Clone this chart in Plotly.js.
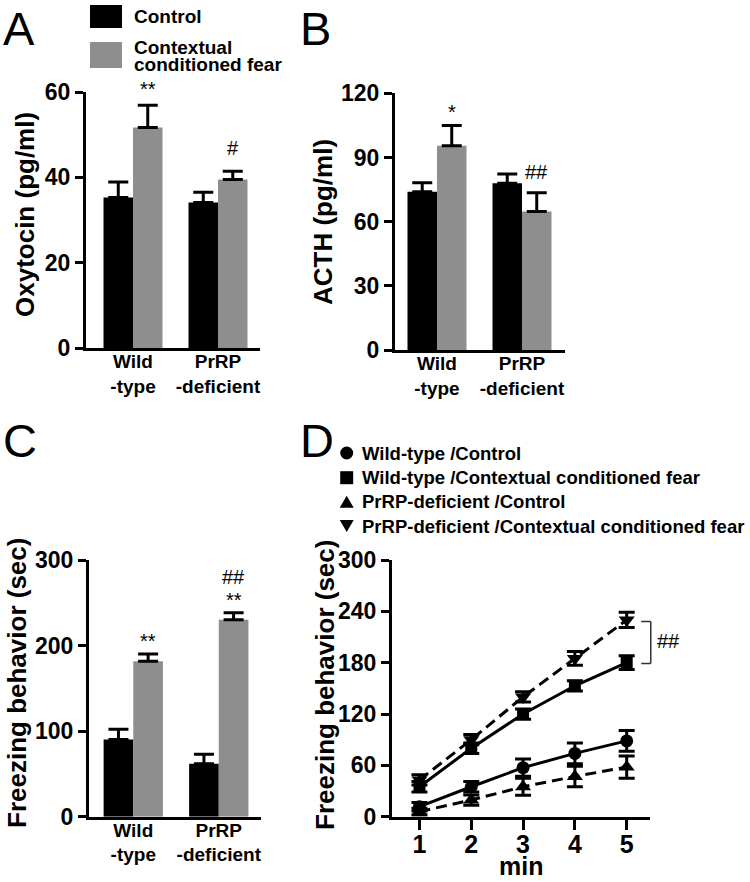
<!DOCTYPE html>
<html><head><meta charset="utf-8">
<script src="https://cdn.plot.ly/plotly-3.0.1.min.js"></script>
<style>html,body{margin:0;padding:0;background:#fff;overflow:hidden}</style>
</head><body><div id="chart" style="width:750px;height:882px"></div>
<script>
// ---------- data ----------
const groups = ['Wild<br>-type', 'PrRP<br>-deficient'];
const seriesNames = ['Control', 'Contextual conditioned fear'];

const oxyControl = [35.3, 34.1];
const oxyControlErr = [3.6, 2.4];
const oxyFear = [51.7, 39.5];
const oxyFearErr = [5.2, 1.9];

const acthControl = [74.0, 77.9];
const acthControlErr = [4.2, 4.4];
const acthFear = [95.5, 64.8];
const acthFearErr = [9.4, 8.7];

const freezeControl = [90.2, 62.0];
const freezeControlErr = [12.0, 11.0];
const freezeFear = [181.6, 230.2];
const freezeFearErr = [8.6, 8.2];

const minutes = [1, 2, 3, 4, 5];
const lineNames = ['Wild-type /Control', 'Wild-type /Contextual conditioned fear',
                   'PrRP-deficient /Control', 'PrRP-deficient /Contextual conditioned fear'];
const wtControl = [11.7, 35.0, 57.3, 74.0, 88.6];
const wtControlErr = [5, 6, 10, 12, 12];
const wtFear = [35.0, 80.0, 120.0, 153.0, 180.0];
const wtFearErr = [6, 6, 6, 6, 8];
const koControl = [6.0, 19.5, 35.0, 47.0, 58.0];
const koControlErr = [4, 6, 10, 12, 13];
const koFear = [43.0, 90.0, 140.0, 185.0, 230.0];
const koFearErr = [6, 6, 6, 8, 9];

// ---------- styling ----------
const FONT = 'Liberation Sans, Arial, Helvetica, sans-serif';
const W = 750, H = 882;
const px = v => v / W;
const py = v => 1 - v / H;
const BLACK = '#000000';
const GRAY = '#8e8e8e';
const BARGAP = 0.306;
const OFF = (1 - BARGAP) / 4;

const tickFont = {family: FONT, size: 23, weight: 'bold', color: BLACK};
const titleFont = {family: FONT, size: 26, weight: 'bold', color: BLACK};
const catFont = {family: FONT, size: 19, weight: 'bold', color: BLACK};
const sigFont = {family: FONT, size: 20, color: BLACK};
const legFontA = {family: FONT, size: 19, weight: 'bold', color: BLACK};
const legFontD = {family: FONT, size: 18.5, weight: 'bold', color: BLACK};

function barPair(ctrl, ctrlErr, fear, fearErr, xa, ya) {
  const common = {type: 'bar', x: groups, xaxis: xa, yaxis: ya, showlegend: false, hoverinfo: 'skip'};
  const errStyle = {type: 'data', symmetric: false, color: BLACK, thickness: 3, width: 10};
  return [
    Object.assign({}, common, {name: seriesNames[0], y: ctrl, marker: {color: BLACK},
      error_y: Object.assign({}, errStyle, {array: ctrlErr, arrayminus: ctrlErr.map(() => 0)})}),
    Object.assign({}, common, {name: seriesNames[1], y: fear, marker: {color: GRAY},
      error_y: Object.assign({}, errStyle, {array: fearErr, arrayminus: fearErr.map(() => 0)})})
  ];
}

function lineTrace(name, y, err, symbol, size, dash) {
  return {type: 'scatter', mode: 'lines+markers', x: minutes, y: y, xaxis: 'x4', yaxis: 'y4',
    name: name, showlegend: false, hoverinfo: 'skip', cliponaxis: false,
    line: {color: BLACK, width: 3, dash: dash},
    marker: {symbol: symbol, size: size, color: BLACK},
    error_y: {type: 'data', array: err, color: BLACK, thickness: 3, width: 8}};
}

const DASH = '11px,6px';
const traces = [].concat(
  barPair(oxyControl, oxyControlErr, oxyFear, oxyFearErr, 'x', 'y'),
  barPair(acthControl, acthControlErr, acthFear, acthFearErr, 'x2', 'y2'),
  barPair(freezeControl, freezeControlErr, freezeFear, freezeFearErr, 'x3', 'y3'),
  [
    lineTrace(lineNames[2], koControl, koControlErr, 'triangle-up', 14, DASH),
    lineTrace(lineNames[3], koFear, koFearErr, 'triangle-down', 14, DASH),
    lineTrace(lineNames[0], wtControl, wtControlErr, 'circle', 13, 'solid'),
    lineTrace(lineNames[1], wtFear, wtFearErr, 'square', 12, 'solid')
  ]
);

function yAxis(domain, range, dtick, anchor) {
  return {domain: domain, range: range, dtick: dtick, tick0: 0, anchor: anchor,
    showline: true, linewidth: 3, linecolor: BLACK, ticks: 'outside', ticklen: 8, tickwidth: 3,
    tickcolor: BLACK, showgrid: false, zeroline: false, tickfont: tickFont,
    automargin: false, fixedrange: true};
}
function xCatAxis(domain, range, anchor) {
  return {domain: domain, range: range, anchor: anchor, type: 'category', showline: true,
    linewidth: 3, linecolor: BLACK, ticks: '', showgrid: false, zeroline: false,
    tickfont: catFont, ticklabelstandoff: -6, automargin: false, fixedrange: true};
}

const annotations = [];
function addText(text, x, y, xref, yref, font, opts) {
  annotations.push(Object.assign({text: text, x: x, y: y, xref: xref, yref: yref,
    showarrow: false, font: font, xanchor: 'center', yanchor: 'middle'}, opts || {}));
}
// panel letters
const letterFont = {family: FONT, size: 47, color: BLACK};
addText('A', px(1), 1, 'paper', 'paper', letterFont, {xanchor: 'left', yanchor: 'top'});
addText('B', px(298), 1, 'paper', 'paper', letterFont, {xanchor: 'left', yanchor: 'top'});
addText('C', px(1), py(412), 'paper', 'paper', letterFont, {xanchor: 'left', yanchor: 'top'});
addText('D', px(298), py(412), 'paper', 'paper', letterFont, {xanchor: 'left', yanchor: 'top'});
// axis titles
const rot = {textangle: -90};
addText('Oxytocin (pg/ml)', px(25), py(215), 'paper', 'paper', titleFont, rot);
addText('ACTH (pg/ml)', px(323), py(222), 'paper', 'paper', titleFont, rot);
addText('Freezing behavior (sec)', px(17), py(683), 'paper', 'paper', titleFont, rot);
addText('Freezing behavior (sec)', px(325), py(685), 'paper', 'paper', titleFont, rot);
addText('min', px(521), 0, 'paper', 'paper', {family: FONT, size: 25, weight: 'bold', color: BLACK},
  {yanchor: 'bottom'});
// panel A legend text
addText(seriesNames[0], px(132), py(17), 'paper', 'paper', legFontA, {xanchor: 'left'});
addText('Contextual', px(132), py(48), 'paper', 'paper', legFontA, {xanchor: 'left'});
addText('conditioned fear', px(132), py(64.5), 'paper', 'paper', legFontA, {xanchor: 'left'});
// panel D legend text
const legRows = [453, 477.7, 501.7, 526];
lineNames.forEach((n, i) => addText(n, px(359.5), py(legRows[i]), 'paper', 'paper', legFontD, {xanchor: 'left'}));
// significance marks
addText('**', 0 + OFF, 59, 'x', 'y', sigFont, {yshift: 7});
addText('#', 1 + OFF, 46.9, 'x', 'y', sigFont);
addText('*', 0 + OFF, 113.7, 'x2', 'y2', sigFont, {yshift: -5});
addText('##', 1 + OFF, 83.4, 'x2', 'y2', sigFont);
addText('**', 0 + OFF, 211, 'x3', 'y3', sigFont, {yshift: -5});
addText('**', 1 + OFF, 258.8, 'x3', 'y3', sigFont, {yshift: -5});
addText('##', 1 + OFF, 280.4, 'x3', 'y3', sigFont);
addText('##', 1.02, (koFear[4] + wtFear[4]) / 2, 'x4 domain', 'y4', sigFont, {xanchor: 'left'});

function triPath(cx, cy, w, h, up) {
  const tip = up ? cy - h / 2 : cy + h / 2;
  const base = up ? cy + h / 2 : cy - h / 2;
  return 'M' + px(cx - w / 2) + ',' + py(base) + ' L' + px(cx + w / 2) + ',' + py(base) +
         ' L' + px(cx) + ',' + py(tip) + ' Z';
}
const MX = 346.7;
const shapes = [
  // panel A legend swatches
  {type: 'rect', xref: 'paper', yref: 'paper', x0: px(90), x1: px(122), y0: py(5), y1: py(28),
   fillcolor: BLACK, line: {width: 0}},
  {type: 'rect', xref: 'paper', yref: 'paper', x0: px(90), x1: px(122), y0: py(42), y1: py(68),
   fillcolor: GRAY, line: {width: 0}},
  // panel D legend symbols
  {type: 'circle', xref: 'paper', yref: 'paper', x0: px(MX - 6.5), x1: px(MX + 6.5),
   y0: py(legRows[0] - 6.5), y1: py(legRows[0] + 6.5), fillcolor: BLACK, line: {width: 0}},
  {type: 'rect', xref: 'paper', yref: 'paper', x0: px(MX - 6.5), x1: px(MX + 6.5),
   y0: py(legRows[1] - 6.5), y1: py(legRows[1] + 6.5), fillcolor: BLACK, line: {width: 0}},
  {type: 'path', xref: 'paper', yref: 'paper', path: triPath(MX, legRows[2], 14, 12, true),
   fillcolor: BLACK, line: {width: 0}},
  {type: 'path', xref: 'paper', yref: 'paper', path: triPath(MX, legRows[3], 14, 12, false),
   fillcolor: BLACK, line: {width: 0}},
  // bracket between the two fear curves at 5 min
  {type: 'line', xref: 'x4 domain', yref: 'y4', x0: 0.966, x1: 1.003, y0: koFear[4] - 2, y1: koFear[4] - 2,
   line: {color: '#333', width: 1.5}},
  {type: 'line', xref: 'x4 domain', yref: 'y4', x0: 0.966, x1: 1.003, y0: wtFear[4] - 1, y1: wtFear[4] - 1,
   line: {color: '#333', width: 1.5}},
  {type: 'line', xref: 'x4 domain', yref: 'y4', x0: 1.003, x1: 1.003, y0: wtFear[4] - 1, y1: koFear[4] - 2,
   line: {color: '#333', width: 1.5}}
];

const layout = {
  width: W, height: H, margin: {l: 0, r: 0, t: 0, b: 0},
  paper_bgcolor: '#ffffff', plot_bgcolor: '#ffffff',
  font: {family: FONT, color: BLACK},
  barmode: 'group', bargap: BARGAP, bargroupgap: 0,
  showlegend: false,
  xaxis: xCatAxis([px(86), px(260)], [-0.553, 1.494], 'y'),
  yaxis: yAxis([py(348), py(92)], [0, 60], 20, 'x'),
  xaxis2: xCatAxis([px(395), px(565)], [-0.494, 1.506], 'y2'),
  yaxis2: yAxis([py(350), py(93.3)], [0, 120], 30, 'x2'),
  xaxis3: xCatAxis([px(89), px(261)], [-0.518, 1.494], 'y3'),
  yaxis3: yAxis([py(816.7), py(560)], [0, 300], 100, 'x3'),
  xaxis4: {domain: [px(392), px(650)], range: [0.47, 5.45], anchor: 'y4', tickvals: minutes,
    showline: true, linewidth: 3, linecolor: BLACK, ticks: 'outside', ticklen: 10, tickwidth: 3,
    tickcolor: BLACK, showgrid: false, zeroline: false, ticklabelstandoff: -7,
    tickfont: {family: FONT, size: 25, weight: 'bold', color: BLACK},
    automargin: false, fixedrange: true},
  yaxis4: yAxis([py(816.7), py(560)], [0, 300], 60, 'x4'),
  annotations: annotations,
  shapes: shapes
};

Plotly.newPlot('chart', traces, layout, {staticPlot: true, displayModeBar: false});
</script></body></html>
